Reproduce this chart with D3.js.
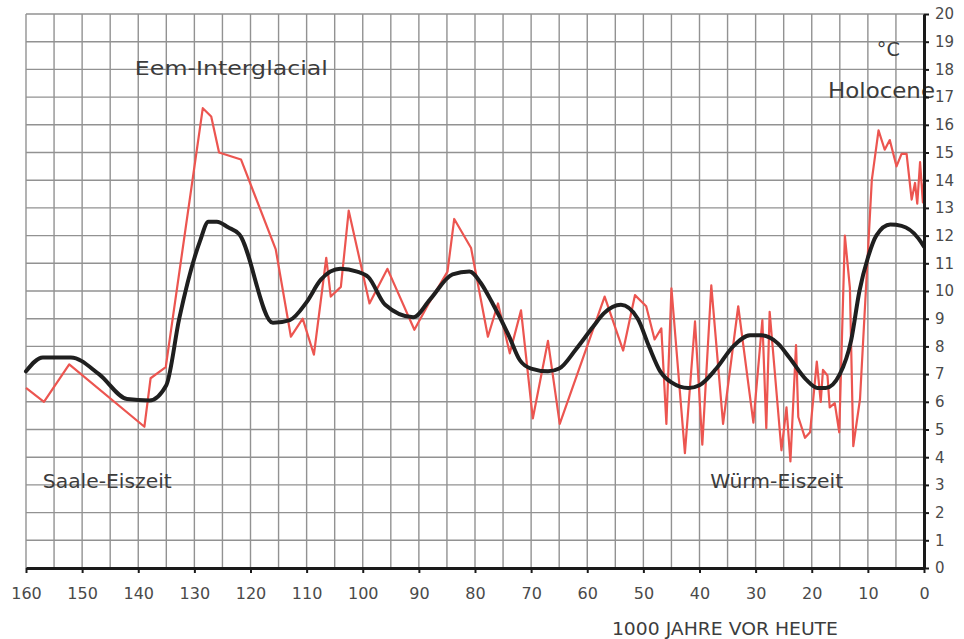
<!DOCTYPE html>
<html>
<head>
<meta charset="utf-8">
<script src="https://cdn.jsdelivr.net/npm/d3@7"></script>
<style>
  html, body { margin: 0; padding: 0; background: #ffffff; }
  svg { display: block; }
  text { font-family: "DejaVu Sans", Verdana, sans-serif; }
</style>
</head>
<body>
<svg id="chart" width="964" height="639"></svg>
<script>
// ---- data (1000 years before present, °C) ----
const smoothYears = [160,157,152,147,142,138,135,132.7,129,127.5,126,124,122,116,113,110,107.5,104,101,99,96,91,88,84,81,79,77,74,72,70,67,65,62,59,57,54,51,49,47,45,42,40,37,34,31,29,26,24,21,19,17.5,15,13,11.5,10,8.5,6,4,1,0];
const smoothTemps = [7.1,7.6,7.6,7.0,6.1,6.05,6.6,9.0,11.8,12.5,12.5,12.3,12.05,8.85,8.95,9.6,10.4,10.8,10.7,10.5,9.5,9.05,9.7,10.6,10.7,10.3,9.6,8.4,7.5,7.2,7.1,7.2,7.9,8.7,9.2,9.5,9.0,8.0,7.1,6.7,6.5,6.6,7.2,8.0,8.4,8.4,8.1,7.6,6.8,6.5,6.5,7.0,8.2,10.0,11.2,12.0,12.4,12.35,11.9,11.6];

const rawYears = [160,156.8,152.3,138.9,137.8,135.1,128.5,127,125.6,121.7,115.5,112.8,110.7,108.7,106.5,105.7,103.9,102.5,98.8,95.6,90.8,88.1,84.9,83.7,80.7,77.7,75.9,73.8,71.8,69.7,67,64.9,56.9,53.6,51.5,49.5,48,46.8,45.9,45,42.6,40.8,39.5,37.9,35.8,33.1,30.4,28.8,28.1,27.5,25.4,24.5,23.8,22.8,22.4,21.2,20.3,19.1,18.4,18,17.2,16.8,15.9,15.1,14.1,13.2,12.6,11.4,9.3,8.1,7,6.1,4.9,4,3.1,2.2,1.6,1.2,0.7,0.2,0];
const rawTemps = [6.5,6.0,7.35,5.1,6.85,7.25,16.6,16.3,15.0,14.75,11.5,8.35,9.0,7.7,11.2,9.8,10.15,12.9,9.55,10.8,8.6,9.6,10.7,12.6,11.55,8.35,9.55,7.75,9.3,5.4,8.2,5.2,9.8,7.85,9.85,9.45,8.25,8.65,5.2,10.1,4.15,8.9,4.45,10.2,5.2,9.45,5.25,8.95,5.05,9.25,4.25,5.8,3.85,8.05,5.45,4.7,4.9,7.45,6.0,7.15,6.95,5.8,5.95,4.9,12.0,10.1,4.4,6.1,14.0,15.8,15.1,15.45,14.5,14.95,14.95,13.3,13.9,13.15,14.65,13.2,13.9];

const xTicks = [160,150,140,130,120,110,100,90,80,70,60,50,40,30,20,10,0];
const yTicks = d3.range(0, 21, 1);
const xGridValues = d3.range(5, 161, 5);

const annotations = [
  {text: "Eem-Interglacial", year: 140.6, temp: 17.8, width: 193, size: 20},
  {text: "°C", year: 8.4, temp: 18.5, width: 23, size: 20},
  {text: "Holocene", year: 17.1, temp: 16.95, width: 107, size: 21},
  {text: "Saale-Eiszeit", year: 157, temp: 2.9, width: 129, size: 19},
  {text: "Würm-Eiszeit", year: 38.1, temp: 2.9, width: 133, size: 19}
];
const xAxisTitle = "1000 JAHRE VOR HEUTE";

// ---- drawing ----
const svg = d3.select("#chart");
const x = d3.scaleLinear().domain([160, 0]).range([26, 924]);
const y = d3.scaleLinear().domain([0, 20]).range([568, 14]);

const grid = svg.append("g").attr("stroke", "#929292").attr("stroke-width", 1.4);
grid.selectAll("line.h").data(yTicks.filter(d => d > 0)).join("line")
  .attr("class", "h")
  .attr("x1", x(160)).attr("x2", x(0))
  .attr("y1", d => y(d)).attr("y2", d => y(d));
grid.selectAll("line.v").data(xGridValues).join("line")
  .attr("class", "v")
  .attr("x1", d => x(d)).attr("x2", d => x(d))
  .attr("y1", y(0)).attr("y2", y(20));

// annotations
svg.append("g").selectAll("text").data(annotations).join("text")
  .attr("x", d => x(d.year))
  .attr("y", d => y(d.temp))
  .attr("font-size", d => d.size)
  .attr("textLength", d => d.width)
  .attr("lengthAdjust", "spacingAndGlyphs")
  .attr("fill", "#3c3c3c")
  .text(d => d.text);

// lines
const rawData = rawYears.map((yr, i) => [yr, rawTemps[i]]);
const smoothData = smoothYears.map((yr, i) => [yr, smoothTemps[i]]);

svg.append("path")
  .datum(rawData)
  .attr("fill", "none")
  .attr("stroke", "#ec5550")
  .attr("stroke-width", 2.2)
  .attr("stroke-linejoin", "round")
  .attr("d", d3.line().x(d => x(d[0])).y(d => y(d[1])));

svg.append("path")
  .datum(smoothData)
  .attr("fill", "none")
  .attr("stroke", "#1f1f1f")
  .attr("stroke-width", 4)
  .attr("stroke-linejoin", "round")
  .attr("stroke-linecap", "round")
  .attr("d", d3.line().curve(d3.curveMonotoneX).x(d => x(d[0])).y(d => y(d[1])));

// axes
const xAxis = svg.append("g")
  .attr("transform", `translate(0,${y(0)})`)
  .call(d3.axisBottom(x).tickValues(xTicks).tickSize(5).tickSizeOuter(0).tickPadding(15));
const yAxis = svg.append("g")
  .attr("transform", `translate(${x(0)},0)`)
  .call(d3.axisRight(y).tickValues(yTicks).tickSize(5).tickSizeOuter(0).tickPadding(6));

[xAxis, yAxis].forEach(g => {
  g.select(".domain").attr("stroke", "#1a1a1a").attr("stroke-width", 3);
  g.selectAll(".tick line").attr("stroke", "#1a1a1a").attr("stroke-width", 2);
  g.selectAll(".tick text").attr("fill", "#4a4a4a")
    .attr("font-family", '"DejaVu Sans", Verdana, sans-serif');
});
xAxis.selectAll(".tick text").attr("font-size", 16);
yAxis.selectAll(".tick text").attr("font-size", 15);

svg.append("text")
  .attr("x", x(55.6))
  .attr("y", 635)
  .attr("font-size", 17)
  .attr("textLength", 226)
  .attr("lengthAdjust", "spacingAndGlyphs")
  .attr("fill", "#3c3c3c")
  .text(xAxisTitle);
</script>
</body>
</html>
